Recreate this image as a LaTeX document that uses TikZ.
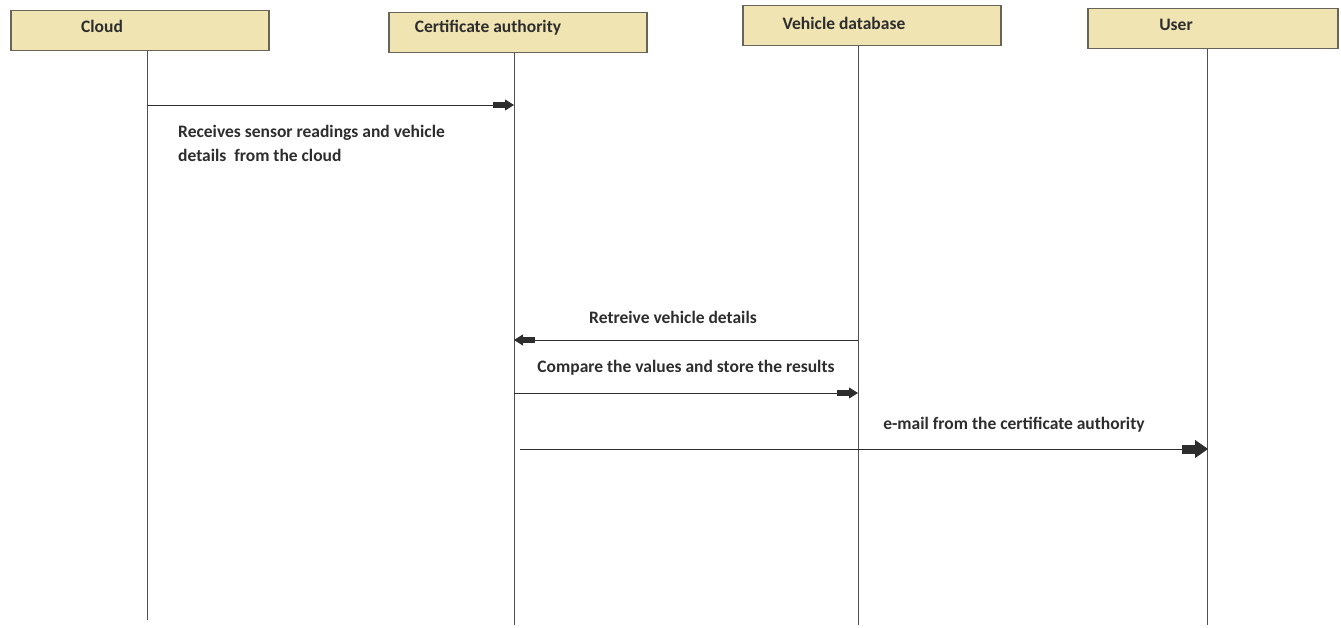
\documentclass[tikz,border=0pt]{standalone}
\usepackage{fontspec}
\setmainfont{Carlito}
\usetikzlibrary{arrows.meta}
\definecolor{boxfill}{RGB}{240,228,178}
\definecolor{boxline}{RGB}{105,100,90}
\definecolor{lifeline}{RGB}{80,80,80}
\definecolor{ink}{RGB}{45,45,45}
\tikzset{
  actor/.style={draw=boxline, line width=1.5pt, fill=boxfill, minimum width=258pt,
    minimum height=40pt, inner sep=0pt, anchor=north west},
  actortext/.style={font=\bfseries\fontsize{17.5}{21}\selectfont, text=ink},
  life/.style={draw=lifeline, line width=0.9pt},
  msg/.style={draw=ink, line width=0.9pt,
    -{Square[length=12pt,width=6pt,sep=0pt]Triangle[length=9pt,width=11pt]}},
  bigmsg/.style={draw=ink, line width=0.9pt,
    -{Square[length=13pt,width=9pt,sep=0pt]Triangle[length=13pt,width=18pt]}},
  lbl/.style={font=\bfseries\fontsize{17.5}{24}\selectfont, text=ink, inner sep=0pt},
}
\begin{document}
\begin{tikzpicture}[x=1pt,y=-1pt]
\useasboundingbox (0,0) rectangle (1341,628);
% participants
\node[actor] (cloud) at (10,10) {};
\node[actor] (ca)    at (388,12) {};
\node[actor] (vdb)   at (742,5) {};
\node[actor, minimum width=250pt] (user) at (1087,8) {};
\node[actortext] at (102,26) {Cloud};
\node[actortext] at (488,28) {Certificate authority};
\node[actortext] at (844,23) {Vehicle database};
\node[actortext] at (1176,25) {User};
% lifeline ends
\coordinate (cloudE) at (147,620);
\coordinate (caE)    at (514,625);
\coordinate (vdbE)   at (858,625);
\coordinate (userE)  at (1207,625);
\draw[life] (cloud.south -| cloudE) -- (cloudE);
\draw[life] (ca.south -| caE) -- (caE);
\draw[life] (vdb.south -| vdbE) -- (vdbE);
\draw[life] (user.south -| userE) -- (userE);
% messages
\coordinate (m1s) at (147,105);
\coordinate (m1e) at (514,105);
\draw[msg] (m1s) -- (m1e);
\node[lbl, anchor=west, align=left] (l1) at (178,143)
  {Receives sensor readings and vehicle\\details\ \ from the cloud};
\coordinate (m2s) at (858,340);
\coordinate (m2e) at (514,340);
\draw[msg] (m2s) -- (m2e);
\node[lbl] (l2) at (673,317) {Retreive vehicle details};
\coordinate (m3s) at (514,393);
\coordinate (m3e) at (858,393);
\draw[msg] (m3s) -- (m3e);
\node[lbl] (l3) at (686,368) {Compare the values and store the results};
\coordinate (m4s) at (520,449);
\coordinate (m4e) at (1208,449);
\draw[bigmsg] (m4s) -- (m4e);
\node[lbl] (l4) at (1014,425) {e-mail from the certificate authority};
\end{tikzpicture}
\end{document}
